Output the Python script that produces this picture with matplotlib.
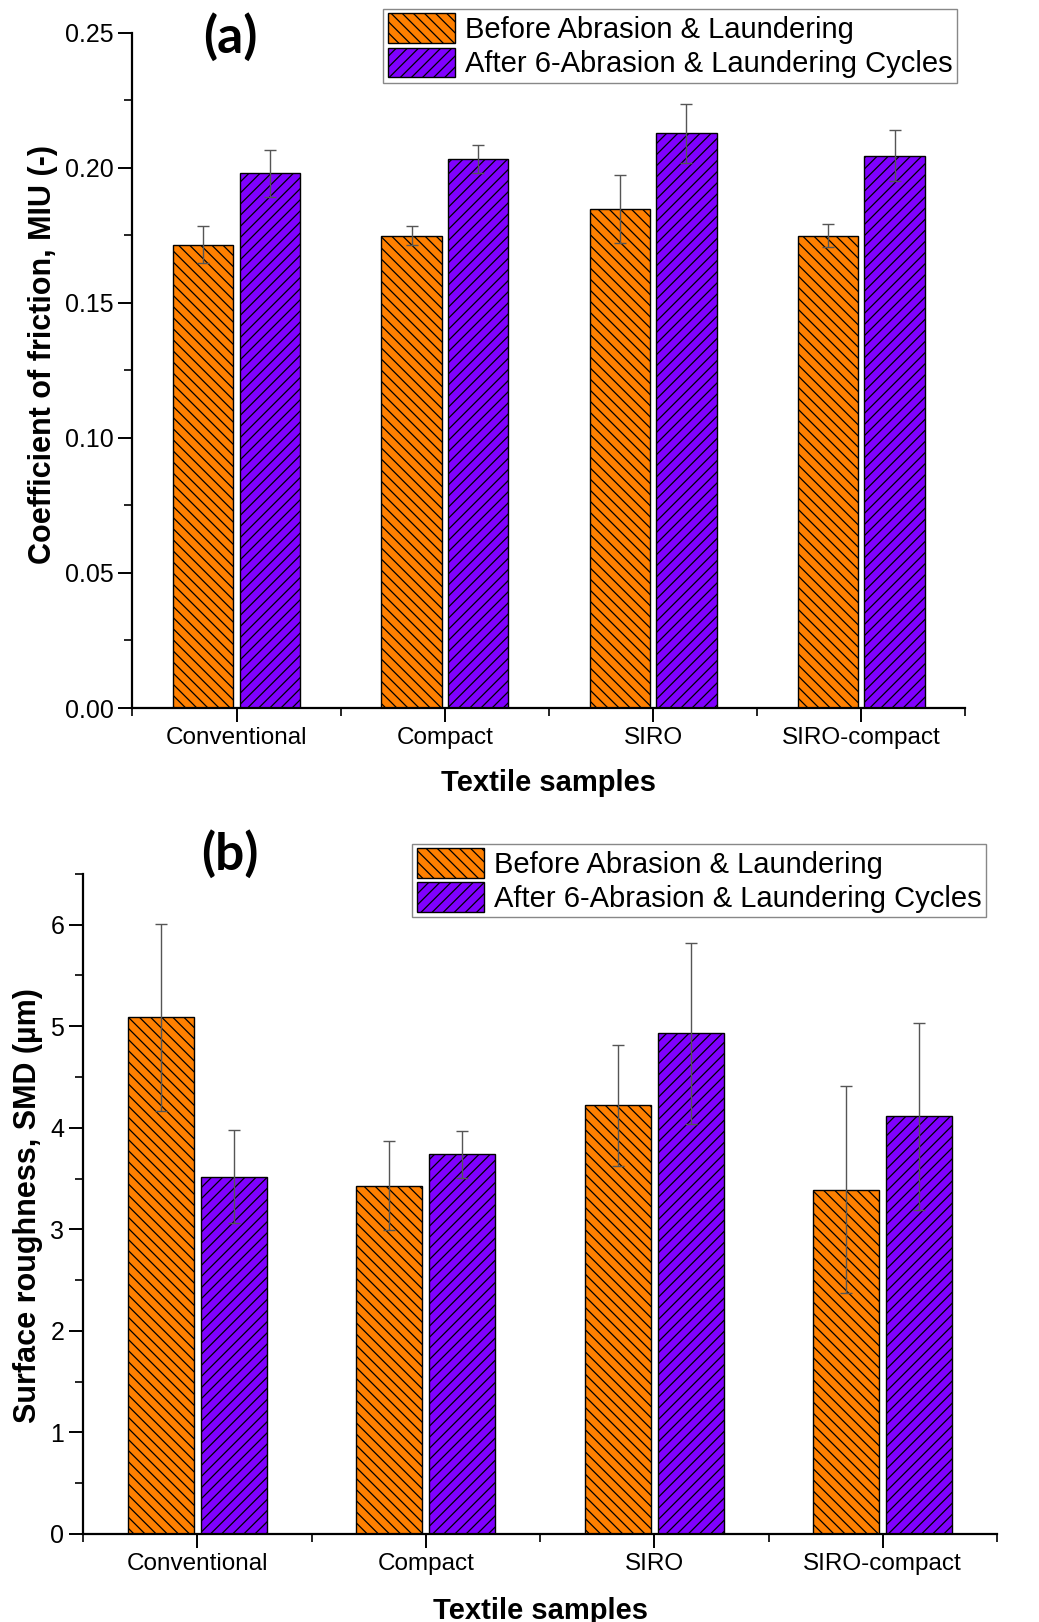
import numpy as np
import matplotlib
matplotlib.use("Agg")
import matplotlib.pyplot as plt
from matplotlib.ticker import MultipleLocator

# data
categories = ["Conventional", "Compact", "SIRO", "SIRO-compact"]
series_labels = ["Before Abrasion & Laundering", "After 6-Abrasion & Laundering Cycles"]

cof_before     = [0.1716, 0.1749, 0.1847, 0.1749]
cof_before_err = [0.0068, 0.0036, 0.0126, 0.0043]
cof_after      = [0.1980, 0.2032, 0.2128, 0.2046]
cof_after_err  = [0.0088, 0.0052, 0.0110, 0.0096]

smd_before     = [5.09, 3.43, 4.22, 3.39]
smd_before_err = [0.92, 0.44, 0.60, 1.02]
smd_after      = [3.52, 3.74, 4.93, 4.115]
smd_after_err  = [0.46, 0.23, 0.89, 0.92]

COLOR_BEFORE = "#FF8000"
COLOR_AFTER  = "#8000FF"
COLOR_ERR    = "#555555"

plt.rcParams["font.family"] = ["Liberation Sans", "DejaVu Sans"]
plt.rcParams["hatch.linewidth"] = 0.9
plt.rcParams["hatch.color"] = "black"

fig = plt.figure(figsize=(10.39, 16.22), dpi=100)
fig.patch.set_facecolor("white")

ax_a = fig.add_axes([0.1275, 0.5635, 0.8017, 0.4162])
ax_b = fig.add_axes([0.0799, 0.0543, 0.8797, 0.4069])

ancho = 0.29
desp = 0.16


def dibujar_panel(ax, antes, antes_err, despues, despues_err):
    x = np.arange(len(categories))
    b1 = ax.bar(x - desp, antes, ancho, color=COLOR_BEFORE, edgecolor="black",
                linewidth=1.0, hatch="\\\\\\", label=series_labels[0], zorder=2)
    b2 = ax.bar(x + desp, despues, ancho, color=COLOR_AFTER, edgecolor="black",
                linewidth=1.0, hatch="///", label=series_labels[1], zorder=2)
    ax.errorbar(x - desp, antes, yerr=antes_err, fmt="none", ecolor=COLOR_ERR,
                elinewidth=1.0, capsize=4, capthick=1.0, zorder=3)
    ax.errorbar(x + desp, despues, yerr=despues_err, fmt="none", ecolor=COLOR_ERR,
                elinewidth=1.0, capsize=4, capthick=1.0, zorder=3)
    ax.set_xlim(-0.5, 3.5)
    ax.set_xticks(x)
    ax.set_xticklabels(categories)
    ax.xaxis.set_minor_locator(MultipleLocator(1.0, offset=0.5))
    ax.spines["top"].set_visible(False)
    ax.spines["right"].set_visible(False)
    for s in ("left", "bottom"):
        ax.spines[s].set_linewidth(1.6)
    ax.tick_params(axis="both", which="major", direction="out", length=10,
                   width=1.4, labelsize=18)
    ax.tick_params(axis="x", which="major", labelsize=17.5, pad=4)
    ax.tick_params(axis="both", which="minor", direction="out", length=6, width=1.2)
    leg = ax.legend(handles=[b1, b2], fontsize=21, loc="upper right",
                    frameon=True, fancybox=False, framealpha=1,
                    edgecolor="#888888", handlelength=2.3, handleheight=1.2,
                    handletextpad=0.35, borderpad=0.15, labelspacing=0.12,
                    borderaxespad=0)
    leg.get_frame().set_linewidth(1.0)
    return leg


# ── (a) Coeficiente de fricción ─────────────────────
leg_a = dibujar_panel(ax_a, cof_before, cof_before_err, cof_after, cof_after_err)
leg_a.set_bbox_to_anchor((0.9898, 1.0356), transform=ax_a.transAxes)
ax_a.set_ylim(0, 0.25)
ax_a.yaxis.set_major_locator(MultipleLocator(0.05))
ax_a.yaxis.set_minor_locator(MultipleLocator(0.025))
ax_a.yaxis.set_major_formatter(matplotlib.ticker.FormatStrFormatter("%.2f"))
ax_a.set_ylabel("Coefficient of friction, MIU (-)", fontsize=22, fontweight="bold")
ax_a.set_xlabel("Textile samples", fontsize=21, fontweight="bold")
ax_a.yaxis.set_label_coords(-0.107, 0.523)
ax_a.xaxis.set_label_coords(0.5, -0.111)
ax_a.xaxis.label.set_va("center")
ax_a.yaxis.label.set_va("center")
ax_a.text(0.117, 0.993, "(a)", transform=ax_a.transAxes, fontsize=37,
          fontweight="bold", family="Lato", ha="center", va="center")

# ── (b) Rugosidad superficial ───────────────────────
leg_b = dibujar_panel(ax_b, smd_before, smd_before_err, smd_after, smd_after_err)
leg_b.set_bbox_to_anchor((0.988, 1.046), transform=ax_b.transAxes)
ax_b.set_ylim(0, 6.5)
ax_b.yaxis.set_major_locator(MultipleLocator(1))
ax_b.yaxis.set_minor_locator(MultipleLocator(0.5))
ax_b.set_ylabel("Surface roughness, SMD (µm)", fontsize=22, fontweight="bold")
ax_b.set_xlabel("Textile samples", fontsize=21, fontweight="bold")
ax_b.yaxis.set_label_coords(-0.06, 0.497)
ax_b.xaxis.set_label_coords(0.5, -0.117)
ax_b.xaxis.label.set_va("center")
ax_b.yaxis.label.set_va("center")
ax_b.text(0.161, 1.03, "(b)", transform=ax_b.transAxes, fontsize=37,
          fontweight="bold", family="Lato", ha="center", va="center")

fig.savefig("out.png", dpi=100, facecolor="white")
